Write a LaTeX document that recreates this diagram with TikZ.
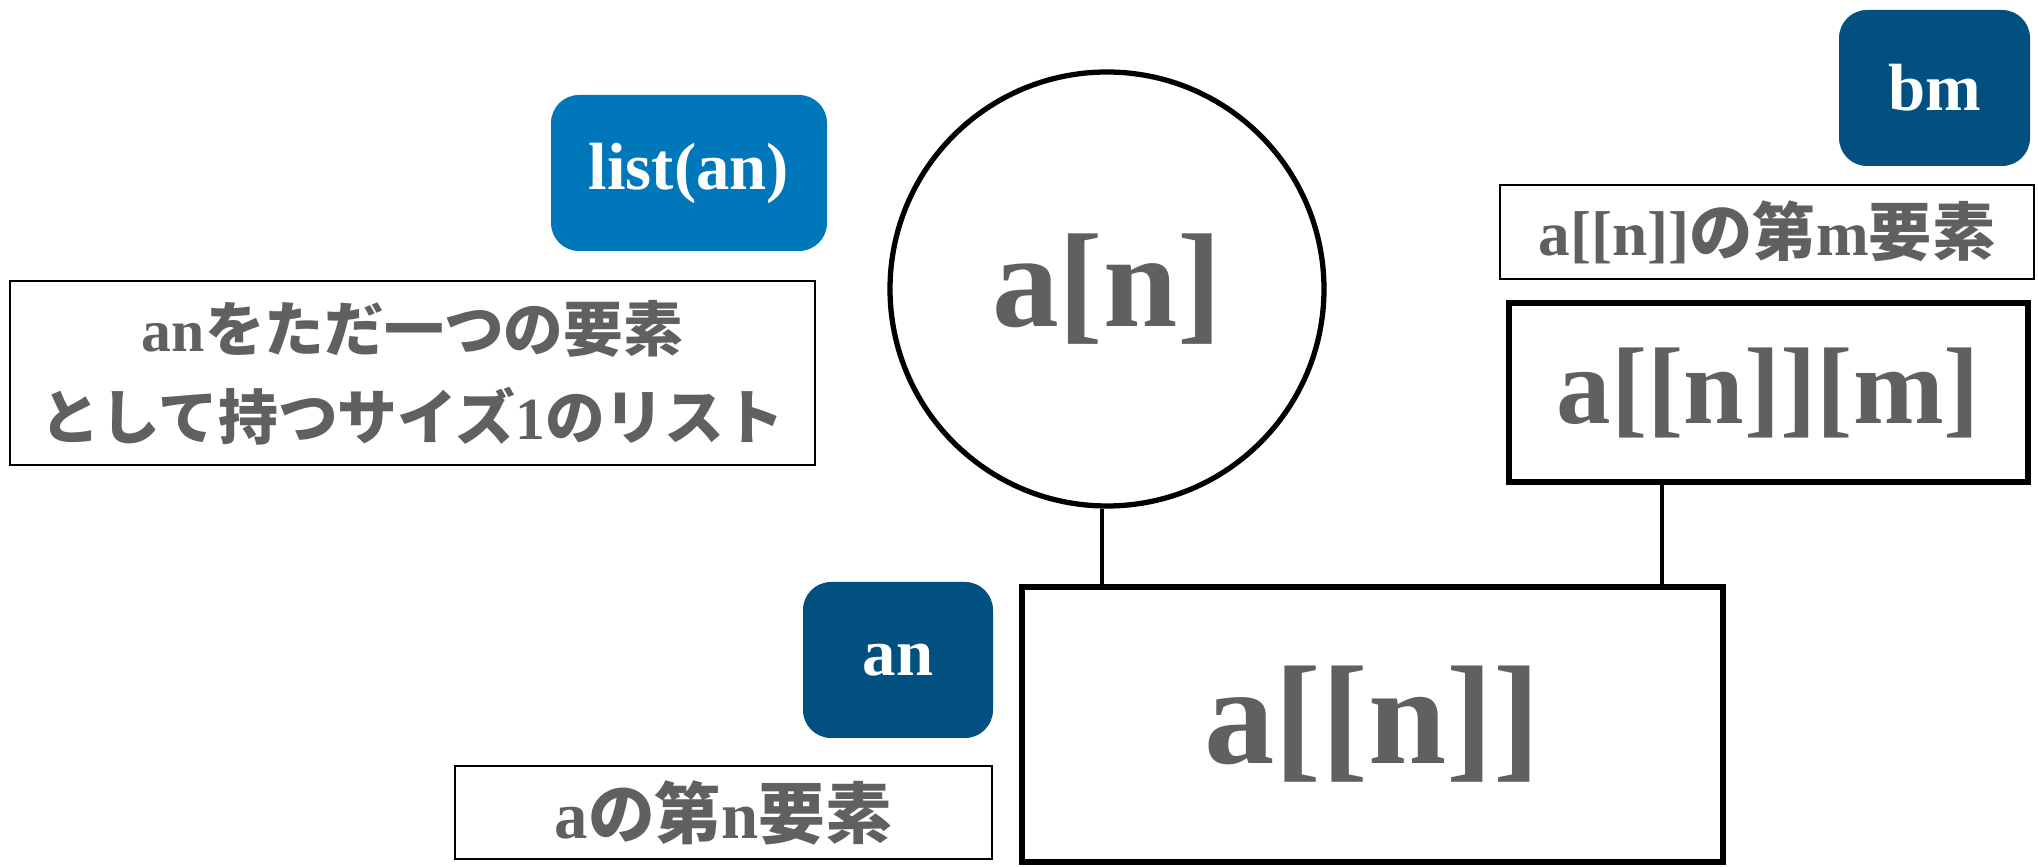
\documentclass[tikz,border=0pt]{standalone}
\usepackage{fontspec}
\setmainfont{Liberation Serif}
\newfontfamily\jpfont{Noto Sans CJK JP}
\usepackage{xcolor}
\usetikzlibrary{positioning}
\definecolor{mylight}{RGB}{0, 119, 187}
\definecolor{mydark}{RGB}{2, 80, 128}
\definecolor{mygray}{RGB}{96, 96, 96}
\newcommand{\ja}[1]{{\jpfont #1}}

\begin{document}
\begin{tikzpicture}[
    tagbox/.style={rectangle, rounded corners=0.28cm, inner sep=0pt, text=white, font=\bfseries\fontsize{19}{22}\selectfont},
    notebox/.style={rectangle, draw=black, line width=0.6pt, inner sep=0pt, text=mygray, font=\bfseries\fontsize{18}{25}\selectfont, align=center},
    exprbox/.style={rectangle, draw=black, line width=1.8pt, inner sep=0pt, text=mygray, font=\bfseries}
]
    \useasboundingbox (0,0) rectangle (20.38,-8.67);

    % list(an)
    \node[tagbox, fill=mylight, minimum width=2.76cm, minimum height=1.56cm] (list) at (6.89, -1.73) {list(an)};
    \node[notebox, minimum width=8.05cm, minimum height=1.84cm, font=\bfseries\fontsize{17}{25}\selectfont] (listnote) at (4.125, -3.73)
        {an\ja{をただ一つの要素}\\\ja{として持つサイズ}1\ja{のリスト}};

    % a[n]
    \node[circle, draw=black, line width=1.5pt, minimum size=4.34cm, inner sep=0pt, text=mygray, font=\bfseries\fontsize{38}{44}\selectfont] (an) at (11.07, -2.89) {\raisebox{-0.08cm}{a[n]}};

    % bm
    \node[tagbox, fill=mydark, minimum width=1.91cm, minimum height=1.56cm] (bm) at (19.345, -0.88) {bm};
    \node[notebox, minimum width=5.34cm, minimum height=0.94cm] (bmnote) at (17.67, -2.32) {a[[n]]\ja{の第}m\ja{要素}};
    \node[exprbox, minimum width=5.19cm, minimum height=1.79cm, font=\bfseries\fontsize{31}{36}\selectfont] (anm) at (17.685, -3.925) {a[[n]][m]};

    % a[[n]]
    \node[exprbox, minimum width=7.01cm, minimum height=2.75cm, font=\bfseries\fontsize{40}{48}\selectfont] (ann) at (13.725, -7.245) {a[[n]]};
    \node[tagbox, fill=mydark, minimum width=1.90cm, minimum height=1.56cm] (antag) at (8.98, -6.6) {an};
    \node[notebox, minimum width=5.37cm, minimum height=0.93cm, font=\bfseries\fontsize{19}{22}\selectfont] (annote) at (7.235, -8.125) {a\ja{の第}n\ja{要素}};

    % connectors
    \draw[line width=0.9pt] ([xshift=-0.05cm]an.south) -- ([xshift=-0.05cm]an.south |- ann.north);
    \draw[line width=0.9pt] ([xshift=-1.065cm]anm.south) -- ([xshift=-1.065cm]anm.south |- ann.north);
\end{tikzpicture}
\end{document}
